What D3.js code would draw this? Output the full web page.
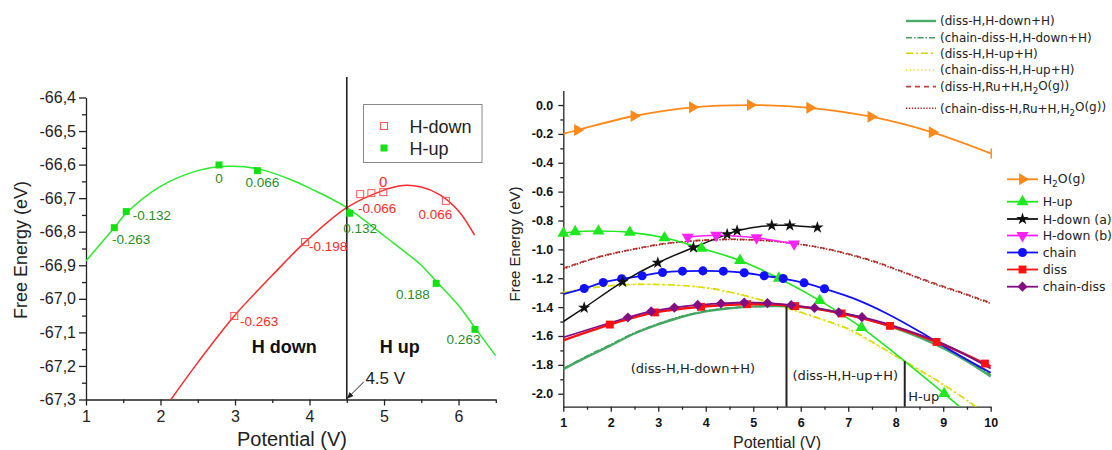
<!DOCTYPE html>
<html><head><meta charset="utf-8">
<script src="https://cdn.jsdelivr.net/npm/d3@7"></script>
<style>html,body{margin:0;padding:0;background:#fff;}svg{display:block;}</style>
</head><body>
<svg id="chart" width="1112" height="450"></svg>
<script>
// ================= LEFT PANEL DATA =================
const leftXTicks = [1,2,3,4,5,6];
const leftXMinor = [1.5,2.5,3.5,4.5,5.5,6.5];
const leftYTicks = [-66.4,-66.5,-66.6,-66.7,-66.8,-66.9,-67.0,-67.1,-67.2,-67.3];
const leftYTickLabels = ["-66,4","-66,5","-66,6","-66,7","-66,8","-66,9","-67,0","-67,1","-67,2","-67,3"];
const leftYMinor = [-66.45,-66.55,-66.65,-66.75,-66.85,-66.95,-67.05,-67.15,-67.25];

const hUpPtsX = [1.38,1.54,2.785,3.30,4.54,5.70,6.22];
const hUpPtsY = [-66.788,-66.740,-66.601,-66.618,-66.745,-66.954,-67.091];
const hUpCurveX = [1.0,1.38,1.54,2.0,2.5,2.9,3.3,3.75,4.0,4.5,5.0,5.5,5.7,6.0,6.22,6.5];
const hUpCurveY = [-66.887,-66.788,-66.745,-66.665,-66.618,-66.605,-66.612,-66.645,-66.670,-66.728,-66.812,-66.900,-66.948,-67.020,-67.086,-67.170];
const hUpLabelText = ["-0.263","-0.132","0","0.066","0.132","0.188","0.263"];
const hUpLabelX = [1.349,1.626,2.785,3.141,4.454,5.161,5.840];
const hUpLabelY = [-66.838,-66.766,-66.654,-66.666,-66.803,-67.000,-67.136];

const hDownPtsX = [2.99,3.94,4.68,4.83,4.99,5.83];
const hDownPtsY = [-67.051,-66.831,-66.688,-66.685,-66.682,-66.708];
const hDownCurveX = [2.0,2.14,2.5,2.99,3.5,3.94,4.5,5.0,5.25,5.5,5.75,6.0,6.215];
const hDownCurveY = [-67.345,-67.300,-67.190,-67.051,-66.930,-66.831,-66.728,-66.676,-66.662,-66.667,-66.690,-66.738,-66.810];
const hDownLabelText = ["-0.263","-0.198","-0.066","0","0.066"];
const hDownLabelX = [3.067,3.993,4.651,4.987,5.462];
const hDownLabelY = [-67.080,-66.858,-66.744,-66.668,-66.762];

const leftLegendNames = ["H-down","H-up"];
const leftRegionText = ["H down","H up"];
const leftRegionX = [3.66,5.21];
const leftRegionY = [-67.162,-67.162];
const switchPotential = 4.5;
const switchLabel = "4.5 V";

// ================= RIGHT PANEL DATA =================
const rightXTicks = [1,2,3,4,5,6,7,8,9,10];
const rightXMinor = [1.5,2.5,3.5,4.5,5.5,6.5,7.5,8.5,9.5];
const rightYTicks = [0.0,-0.2,-0.4,-0.6,-0.8,-1.0,-1.2,-1.4,-1.6,-1.8,-2.0];
const rightYTickLabels = ["0.0","-0.2","-0.4","-0.6","-0.8","-1.0","-1.2","-1.4","-1.6","-1.8","-2.0"];
const rightYMinor = [-0.1,-0.3,-0.5,-0.7,-0.9,-1.1,-1.3,-1.5,-1.7,-1.9];

// marker series
const h2oX = [1.30,2.49,3.72,4.94,6.19,7.48,8.77];
const h2oY = [-0.173,-0.076,-0.016,0.000,-0.019,-0.081,-0.189];
const h2oLineX = [1.0,1.30,2.49,3.72,4.94,6.19,7.48,8.77,10.0];
const h2oLineY = [-0.200,-0.173,-0.076,-0.016,0.000,-0.019,-0.081,-0.189,-0.335];

const hUpRX = [1.00,1.25,1.74,2.40,3.13,3.91,4.72,5.54,6.40,7.28,9.02];
const hUpRY = [-0.889,-0.878,-0.873,-0.882,-0.920,-0.993,-1.077,-1.200,-1.355,-1.542,-1.999];
const hUpRLineX = [1.00,1.25,1.74,2.40,3.13,3.91,4.72,5.54,6.40,7.28,9.02,9.45];
const hUpRLineY = [-0.889,-0.878,-0.873,-0.882,-0.920,-0.993,-1.077,-1.200,-1.355,-1.542,-1.999,-2.120];

const hDownAX = [1.44,2.25,2.99,3.74,4.45,4.66,5.39,5.77,6.35];
const hDownAY = [-1.405,-1.225,-1.093,-0.987,-0.896,-0.871,-0.834,-0.834,-0.848];
const hDownALineX = [1.0,1.44,2.25,2.99,3.74,4.45,4.66,5.39,5.77,6.35];
const hDownALineY = [-1.500,-1.405,-1.225,-1.093,-0.987,-0.896,-0.871,-0.834,-0.834,-0.848];

const hDownBX = [3.62,4.22,5.07,5.86];
const hDownBY = [-0.915,-0.902,-0.920,-0.962];

const chainX = [1.44,1.84,2.23,2.66,3.09,3.51,3.94,4.37,4.81,5.23,5.63,6.07,6.50];
const chainY = [-1.271,-1.229,-1.204,-1.183,-1.160,-1.151,-1.149,-1.151,-1.162,-1.183,-1.202,-1.232,-1.273];
const chainLineX = [1.0,1.44,1.84,2.23,2.66,3.09,3.51,3.94,4.37,4.81,5.23,5.63,6.07,6.50,7.11,7.81,8.51,9.21,10.0];
const chainLineY = [-1.310,-1.271,-1.229,-1.204,-1.183,-1.160,-1.151,-1.149,-1.151,-1.162,-1.183,-1.202,-1.232,-1.273,-1.340,-1.444,-1.571,-1.710,-1.855];

const dissX = [1.98,2.93,3.90,4.87,5.88,6.86,7.88,8.86,9.88];
const dissY = [-1.521,-1.437,-1.398,-1.380,-1.393,-1.444,-1.530,-1.641,-1.791];
const dissLineX = [1.0,1.98,2.93,3.90,4.87,5.88,6.86,7.88,8.86,9.88,10.0];
const dissLineY = [-1.630,-1.521,-1.437,-1.398,-1.380,-1.393,-1.444,-1.530,-1.641,-1.791,-1.810];

const chainDissX = [2.36,2.85,3.34,3.83,4.32,4.81,5.30,5.80,6.29,6.80,7.29];
const chainDissY = [-1.472,-1.430,-1.403,-1.385,-1.375,-1.368,-1.372,-1.386,-1.406,-1.436,-1.470];
const chainDissLineX = [1.0,2.36,2.85,3.34,3.83,4.32,4.81,5.30,5.80,6.29,6.80,7.29,8.0,9.0,10.0];
const chainDissLineY = [-1.610,-1.472,-1.430,-1.403,-1.385,-1.375,-1.368,-1.372,-1.386,-1.406,-1.436,-1.470,-1.535,-1.655,-1.825];

// plain curves (no markers)
const curveXs = [1,1.5,2,2.5,3,3.5,4,4.5,5,5.5,6,6.5,7,7.5,8,8.5,9,9.5,10];
const dissHdownY = [-1.830,-1.745,-1.665,-1.583,-1.520,-1.467,-1.430,-1.408,-1.397,-1.393,-1.400,-1.420,-1.452,-1.494,-1.548,-1.610,-1.685,-1.775,-1.880];
const chainDissHdownY = [-1.825,-1.738,-1.658,-1.577,-1.515,-1.463,-1.427,-1.406,-1.395,-1.392,-1.400,-1.420,-1.450,-1.490,-1.543,-1.605,-1.678,-1.765,-1.870];
const yellowXs = [1,1.5,2,2.5,3,3.5,4,4.5,5,5.5,6,6.5,7,7.5,8,8.5,9,9.5,9.75];
const dissHupY = [-1.300,-1.272,-1.252,-1.243,-1.243,-1.250,-1.265,-1.295,-1.335,-1.385,-1.435,-1.490,-1.550,-1.640,-1.738,-1.835,-1.935,-2.045,-2.105];
const chainDissHupY = [-1.295,-1.268,-1.250,-1.242,-1.244,-1.252,-1.268,-1.298,-1.338,-1.388,-1.440,-1.495,-1.558,-1.645,-1.742,-1.840,-1.940,-2.050,-2.110];
const ruXs = [1,1.74,2.44,3.14,3.84,4.55,5.25,5.95,6.65,7.53,8.1,8.79,9.4,10];
const dissRuY = [-1.130,-1.052,-1.000,-0.959,-0.938,-0.930,-0.938,-0.962,-1.003,-1.080,-1.148,-1.232,-1.300,-1.370];
const chainDissRuY = [-1.135,-1.055,-1.003,-0.962,-0.940,-0.932,-0.940,-0.964,-1.006,-1.085,-1.152,-1.238,-1.305,-1.375];

const dividerX = [5.70,8.19];
const dividerTopY = [-1.395,-1.775];
const annoText = ["(diss-H,H-down+H)","(diss-H,H-up+H)","H-up"];
const annoX = [3.731,6.938,8.265];
const annoY = [-1.856,-1.906,-2.052];

const curveLegendNames = ["(diss-H,H-down+H)","(chain-diss-H,H-down+H)","(diss-H,H-up+H)","(chain-diss-H,H-up+H)","(diss-H,Ru+H,H|2|O(g))","(chain-diss-H,Ru+H,H|2|O(g))"];
const markerLegendNames = ["H|2|O(g)","H-up","H-down (a)","H-down (b)","chain","diss","chain-diss"];

// ================= DRAWING =================
const svg = d3.select("#chart");
const defs = svg.append("defs");
const LF = "'Liberation Sans', Arial, Helvetica, sans-serif";
const DF = "'DejaVu Sans', Verdana, sans-serif";

// ---------- left panel ----------
const xL = d3.scaleLinear().domain([1,6.5]).range([86,495.8]);
const yL = d3.scaleLinear().domain([-67.3,-66.4]).range([399.5,97.5]);
defs.append("clipPath").attr("id","clipL").append("rect")
  .attr("x",xL(1)).attr("y",60).attr("width",xL(6.5)-xL(1)).attr("height",yL(-67.3)-60);
const gL = svg.append("g");

function styleAxis(g, size, family, weight, color){
  g.attr("font-size",size).attr("font-family",family).attr("font-weight",weight||"normal");
  g.selectAll("text").attr("fill",color||"#222");
  g.selectAll("line,path").attr("stroke","#222").attr("stroke-width",1.3);
}
gL.append("g").attr("transform",`translate(0,${yL(-67.3)})`)
  .call(d3.axisBottom(xL).tickValues(leftXTicks).tickFormat(d=>String(d)).tickSize(6).tickSizeOuter(0).tickPadding(5))
  .call(g=>styleAxis(g,16,LF));
gL.append("g").attr("transform",`translate(0,${yL(-67.3)})`)
  .call(d3.axisBottom(xL).tickValues(leftXMinor).tickFormat(()=> "").tickSize(3.5).tickSizeOuter(0))
  .call(g=>{g.select(".domain").remove(); g.selectAll("line").attr("stroke","#222").attr("stroke-width",1.3);});
gL.append("g").attr("transform",`translate(${xL(1)},0)`)
  .call(d3.axisLeft(yL).tickValues(leftYTicks).tickFormat((d,i)=>leftYTickLabels[i]).tickSize(7).tickSizeOuter(0).tickPadding(3))
  .call(g=>styleAxis(g,16,LF));
gL.append("g").attr("transform",`translate(${xL(1)},0)`)
  .call(d3.axisLeft(yL).tickValues(leftYMinor).tickFormat(()=> "").tickSize(4).tickSizeOuter(0))
  .call(g=>{g.select(".domain").remove(); g.selectAll("line").attr("stroke","#222").attr("stroke-width",1.3);});
gL.append("text").attr("x",292).attr("y",446).attr("text-anchor","middle")
  .attr("font-family",LF).attr("font-size",20).attr("fill","#222").text("Potential (V)");
gL.append("text").attr("transform","translate(27,250) rotate(-90)").attr("text-anchor","middle")
  .attr("font-family",LF).attr("font-size",18).attr("fill","#222").text("Free Energy (eV)");

const lineL = d3.line().x(d=>xL(d[0])).y(d=>yL(d[1])).curve(d3.curveCatmullRom.alpha(0.5));
const gLc = gL.append("g").attr("clip-path","url(#clipL)");
gLc.append("path").datum(d3.zip(hUpCurveX,hUpCurveY)).attr("d",lineL)
  .attr("fill","none").attr("stroke","#2ee82e").attr("stroke-width",1.5);
gLc.append("path").datum(d3.zip(hDownCurveX,hDownCurveY)).attr("d",lineL)
  .attr("fill","none").attr("stroke","#ff2a2a").attr("stroke-width",1.5);

gL.append("line").attr("x1",xL(switchPotential)).attr("x2",xL(switchPotential))
  .attr("y1",77).attr("y2",yL(-67.3)).attr("stroke","#222").attr("stroke-width",1.6);

gL.append("g").selectAll("rect").data(d3.zip(hUpPtsX,hUpPtsY)).join("rect")
  .attr("x",d=>xL(d[0])-3.5).attr("y",d=>yL(d[1])-3.5).attr("width",7).attr("height",7)
  .attr("fill","#14e014");
gL.append("g").selectAll("rect").data(d3.zip(hDownPtsX,hDownPtsY)).join("rect")
  .attr("x",d=>xL(d[0])-3.5).attr("y",d=>yL(d[1])-3.5).attr("width",7).attr("height",7)
  .attr("fill","none").attr("stroke","#ff5555").attr("stroke-width",1);

gL.append("g").selectAll("text").data(d3.zip(hUpLabelX,hUpLabelY,hUpLabelText)).join("text")
  .attr("x",d=>xL(d[0])).attr("y",d=>yL(d[1])).attr("text-anchor",d=>d[2]==="0"?"middle":"start")
  .attr("font-family",LF).attr("font-size",13.5).attr("fill","#2a8c2a").text(d=>d[2]);
gL.append("g").selectAll("text").data(d3.zip(hDownLabelX,hDownLabelY,hDownLabelText)).join("text")
  .attr("x",d=>xL(d[0])).attr("y",d=>yL(d[1])).attr("text-anchor",d=>d[2]==="0"?"middle":"start")
  .attr("font-family",LF).attr("font-size",d=>d[2]==="0"?15:13.5).attr("fill","#ff2a2a").text(d=>d[2]);

gL.append("g").selectAll("text").data(d3.zip(leftRegionX,leftRegionY,leftRegionText)).join("text")
  .attr("x",d=>xL(d[0])).attr("y",d=>yL(d[1])).attr("text-anchor","middle")
  .attr("font-family",LF).attr("font-size",18).attr("font-weight","bold").attr("fill","#111").text(d=>d[2]);

defs.append("marker").attr("id","arr").attr("viewBox","0 0 10 10").attr("refX",9).attr("refY",5)
  .attr("markerWidth",7).attr("markerHeight",7).attr("orient","auto-start-reverse")
  .append("path").attr("d","M0,1 L10,5 L0,9 Z").attr("fill","#222");
gL.append("line").attr("x1",xL(4.73)).attr("y1",yL(-67.247)).attr("x2",xL(4.505)).attr("y2",yL(-67.297))
  .attr("stroke","#222").attr("stroke-width",1).attr("marker-end","url(#arr)");
gL.append("text").attr("x",xL(4.75)).attr("y",yL(-67.253)).attr("font-family",LF).attr("font-size",17)
  .attr("fill","#222").text(switchLabel);

const lg = gL.append("g");
lg.append("rect").attr("x",363.5).attr("y",104.5).attr("width",118.5).attr("height",58)
  .attr("fill","#fff").attr("stroke","#888").attr("stroke-width",1);
lg.append("rect").attr("x",380.5).attr("y",122.5).attr("width",7).attr("height",7)
  .attr("fill","none").attr("stroke","#ff5555");
lg.append("rect").attr("x",380.5).attr("y",144.5).attr("width",7).attr("height",7).attr("fill","#14e014");
lg.selectAll("text.n").data(leftLegendNames).join("text").attr("x",409.5).attr("y",(d,i)=>132.5+i*22)
  .attr("font-family",LF).attr("font-size",18).attr("fill","#222").text(d=>d);

// ---------- right panel ----------
const xR = d3.scaleLinear().domain([1,10]).range([563.3,990.7]);
const yR = d3.scaleLinear().domain([-2.09,0.1]).range([406.7,90.6]);
defs.append("clipPath").attr("id","clipR").append("rect")
  .attr("x",xR(1)).attr("y",80).attr("width",xR(10)-xR(1)+3).attr("height",yR(-2.09)-80);
const gR = svg.append("g");

gR.append("g").attr("transform",`translate(0,${yR(-2.09)})`)
  .call(d3.axisBottom(xR).tickValues(rightXTicks).tickFormat(d=>String(d)).tickSize(5).tickSizeOuter(0).tickPadding(6))
  .call(g=>styleAxis(g,12.5,LF,"bold","#111"));
gR.append("g").attr("transform",`translate(0,${yR(-2.09)})`)
  .call(d3.axisBottom(xR).tickValues(rightXMinor).tickFormat(()=> "").tickSize(3).tickSizeOuter(0))
  .call(g=>{g.select(".domain").remove(); g.selectAll("line").attr("stroke","#222").attr("stroke-width",1.3);});
gR.append("g").attr("transform",`translate(${xR(1)},0)`)
  .call(d3.axisLeft(yR).tickValues(rightYTicks).tickFormat((d,i)=>rightYTickLabels[i]).tickSize(5).tickSizeOuter(0).tickPadding(5))
  .call(g=>styleAxis(g,12.5,LF,"bold","#111"));
gR.append("g").attr("transform",`translate(${xR(1)},0)`)
  .call(d3.axisLeft(yR).tickValues(rightYMinor).tickFormat(()=> "").tickSize(3).tickSizeOuter(0))
  .call(g=>{g.select(".domain").remove(); g.selectAll("line").attr("stroke","#222").attr("stroke-width",1.3);});

gR.append("text").attr("x",777).attr("y",448).attr("text-anchor","middle")
  .attr("font-family",LF).attr("font-size",16).attr("fill","#222").text("Potential (V)");
gR.append("text").attr("transform","translate(520,244) rotate(-90)").attr("text-anchor","middle")
  .attr("font-family",LF).attr("font-size",15).attr("fill","#222").text("Free Energy (eV)");

const lineR = d3.line().x(d=>xR(d[0])).y(d=>yR(d[1])).curve(d3.curveCatmullRom.alpha(0.5));
const gRc = gR.append("g").attr("clip-path","url(#clipR)");
function plainCurve(xs, ys, color, width, dash){
  gRc.append("path").datum(d3.zip(xs,ys)).attr("d",lineR).attr("fill","none")
    .attr("stroke",color).attr("stroke-width",width).attr("stroke-dasharray",dash||null);
}
const C = {
  dissHdown:"#4aab67", chainDissHdown:"#3f9f5c", dissHup:"#d6d600", chainDissHup:"#e6e600",
  dissRu:"#c0443c", chainDissRu:"#9e1a1a", h2o:"#ff8a1c", hup:"#1ee81e", hda:"#111111",
  hdb:"#ff22ff", chain:"#1010ff", diss:"#ff1010", chainDiss:"#820f82"
};
plainCurve(ruXs, dissRuY, C.dissRu, 1.6, "5,4");
plainCurve(ruXs, chainDissRuY, C.chainDissRu, 1.6, "1.3,1.6");
plainCurve(yellowXs, dissHupY, C.dissHup, 1.6, "7,3,2,3");
plainCurve(yellowXs, chainDissHupY, C.chainDissHup, 1.4, "1.3,2.5");
plainCurve(curveXs, dissHdownY, C.dissHdown, 2.4, null);
plainCurve(curveXs, chainDissHdownY, C.chainDissHdown, 1.4, "6,2,1.5,2");

gR.append("g").selectAll("line").data(d3.zip(dividerX,dividerTopY)).join("line")
  .attr("x1",d=>xR(d[0])).attr("x2",d=>xR(d[0])).attr("y1",d=>yR(d[1])).attr("y2",yR(-2.09))
  .attr("stroke","#222").attr("stroke-width",2);

const SYM = {
  right:{t:d3.symbolTriangle,s:62,r:90}, up:{t:d3.symbolTriangle,s:62,r:0},
  down:{t:d3.symbolTriangle,s:62,r:180}, star:{t:d3.symbolStar,s:48,r:0},
  circle:{t:d3.symbolCircle,s:64,r:0}, square:{t:d3.symbolSquare,s:62,r:0},
  diamond:{t:d3.symbolSquare,s:52,r:45}
};
function series(lx, ly, px, py, color, sym, width){
  if(lx) gRc.append("path").datum(d3.zip(lx,ly)).attr("d",lineR).attr("fill","none")
    .attr("stroke",color).attr("stroke-width",width);
  const S = SYM[sym];
  gR.append("g").selectAll("path").data(d3.zip(px,py)).join("path")
    .attr("d",d3.symbol(S.t,S.s)).attr("fill",color)
    .attr("transform",d=>`translate(${xR(d[0])},${yR(d[1])}) rotate(${S.r})`);
}
series(h2oLineX,h2oLineY,h2oX,h2oY,C.h2o,"right",1.8);
gR.append("line").attr("x1",xR(10)+0.5).attr("x2",xR(10)+0.5).attr("y1",yR(-0.335)-5).attr("y2",yR(-0.335)+5)
  .attr("stroke",C.h2o).attr("stroke-width",1.5);
series(hUpRLineX,hUpRLineY,hUpRX,hUpRY,C.hup,"up",1.6);
series(chainLineX,chainLineY,chainX,chainY,C.chain,"circle",1.8);
series(hDownALineX,hDownALineY,hDownAX,hDownAY,C.hda,"star",1.5);
series(hDownBX,hDownBY,hDownBX,hDownBY,C.hdb,"down",1.6);
series(dissLineX,dissLineY,dissX,dissY,C.diss,"square",2.4);
series(chainDissLineX,chainDissLineY,chainDissX,chainDissY,C.chainDiss,"diamond",1.8);

gR.append("g").selectAll("text").data(d3.zip(annoX,annoY,annoText)).join("text")
  .attr("x",d=>xR(d[0])).attr("y",d=>yR(d[1])).attr("text-anchor",(d,i)=>i<2?"middle":"start")
  .attr("font-family",DF).attr("font-size",13).attr("fill","#222").text(d=>d[2]);

function subText(sel, str){
  const parts = str.split("|");
  parts.forEach((p,i)=>{
    if(i%2===1) sel.append("tspan").attr("font-size","0.72em").attr("dy","0.35em").text(p);
    else if(i>0) sel.append("tspan").attr("dy","-0.35em").text(p);
    else sel.append("tspan").text(p);
  });
}

const curveLegendStyle = [
  {c:C.dissHdown,w:2.4,d:null},{c:C.chainDissHdown,w:1.4,d:"6,2,1.5,2"},
  {c:C.dissHup,w:1.6,d:"7,3,2,3"},{c:C.chainDissHup,w:1.4,d:"1.3,2.5"},
  {c:C.dissRu,w:1.8,d:"5,4"},{c:C.chainDissRu,w:1.6,d:"1.3,1.6"}
];
const curveLegendRowY = [21,37.7,53.3,70,86.7,108.3];
curveLegendNames.forEach((n,i)=>{
  const st = curveLegendStyle[i], y = curveLegendRowY[i];
  gR.append("line").attr("x1",906).attr("x2",936).attr("y1",y).attr("y2",y)
    .attr("stroke",st.c).attr("stroke-width",st.w).attr("stroke-dasharray",st.d);
  const t = gR.append("text").attr("x",940).attr("y",y+4.2).attr("font-family",DF)
    .attr("font-size",12).attr("fill","#222");
  subText(t,n);
});

const markerLegendStyle = [
  {c:C.h2o,s:"right"},{c:C.hup,s:"up"},{c:C.hda,s:"star"},{c:C.hdb,s:"down"},
  {c:C.chain,s:"circle"},{c:C.diss,s:"square"},{c:C.chainDiss,s:"diamond"}
];
const markerLegendRowY = [179.3,201.7,219,235.5,252.5,269.5,286.7];
markerLegendNames.forEach((n,i)=>{
  const st = markerLegendStyle[i], y = markerLegendRowY[i], S = SYM[st.s];
  gR.append("line").attr("x1",1007).attr("x2",1038).attr("y1",y).attr("y2",y)
    .attr("stroke",st.c).attr("stroke-width",1.8);
  gR.append("path").attr("d",d3.symbol(S.t,S.s)).attr("fill",st.c)
    .attr("transform",`translate(1022.5,${y}) rotate(${S.r})`);
  const t = gR.append("text").attr("x",1042.7).attr("y",y+4.5).attr("font-family",DF)
    .attr("font-size",12.5).attr("fill","#222");
  subText(t,n);
});
</script>
</body></html>
